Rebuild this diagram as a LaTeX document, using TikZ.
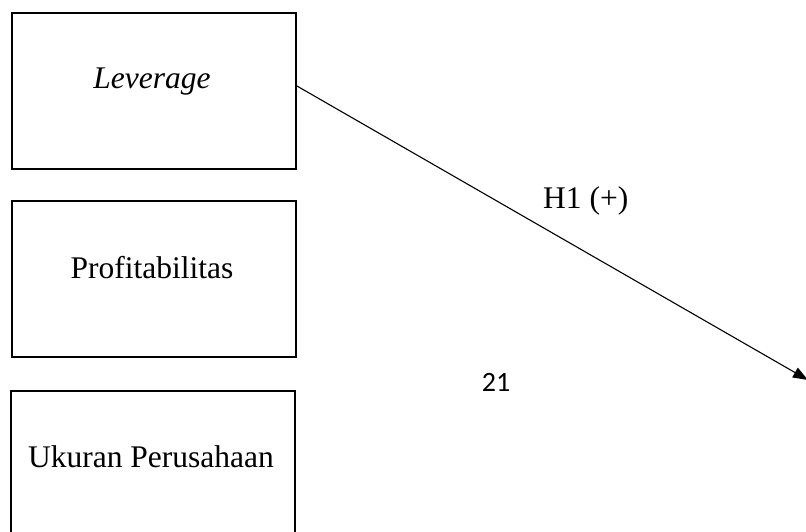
\documentclass[tikz,border=0pt]{standalone}
\usepackage{fontspec}
\setmainfont{Liberation Serif}
\newfontfamily\pagefont{Carlito}
\usetikzlibrary{arrows.meta}
\begin{document}
\begin{tikzpicture}[x=1pt,y=-1pt,
  varbox/.style={draw=black,line width=1.6pt,minimum width=284pt,minimum height=156pt,inner sep=0pt,anchor=north west},
  vartext/.style={font=\fontsize{31.5}{38}\selectfont,anchor=base,inner sep=0pt},
  link/.style={line width=1.1pt,-{Triangle[length=15pt,width=11pt]}}]
\useasboundingbox (0,0) rectangle (806,531);
\node[varbox] (lev) at (11,12) {};
\node[varbox] (prof) at (11,200) {};
\node[varbox] (uk) at (10,390) {};
\node[vartext] (levt) at (152,88) {\itshape Leverage};
\node[vartext] (proft) at (152,278) {Profitabilitas};
\node[vartext] (ukt) at (151,467) {Ukuran Perusahaan};
\coordinate (tip) at (808,380);
\draw[link] ([yshift=5pt]lev.east) -- (tip);
\node[vartext,anchor=base west] (h1) at (543,208) {H1 (+)};
\node[anchor=base,inner sep=0pt,font=\pagefont\fontsize{28}{34}\selectfont] (pg) at (496,391) {21};
\end{tikzpicture}
\end{document}
